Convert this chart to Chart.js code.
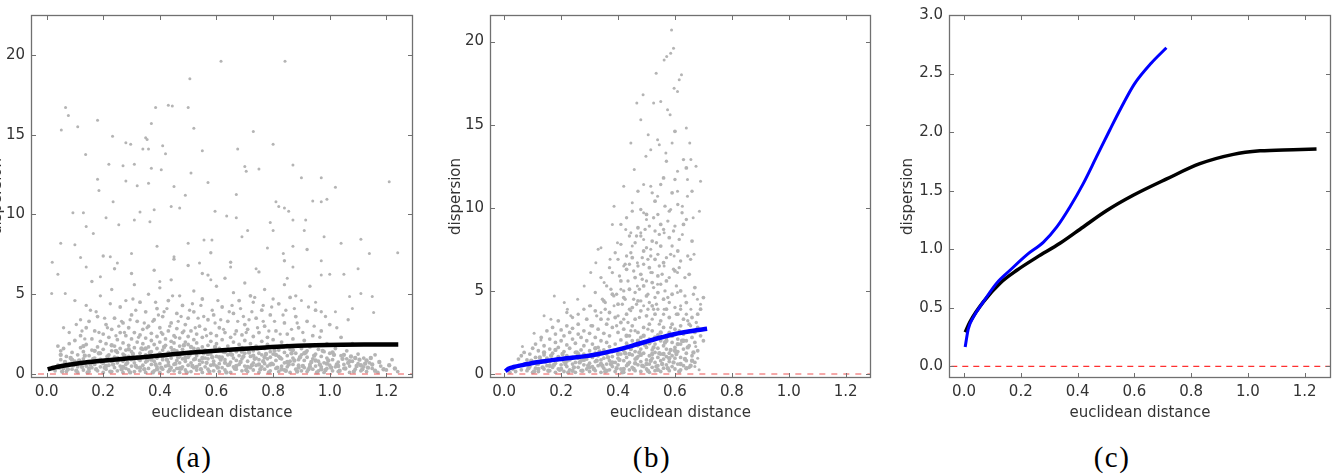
<!DOCTYPE html>
<html>
<head>
<meta charset="utf-8">
<script src="https://cdn.jsdelivr.net/npm/chart.js@4.4.0/dist/chart.umd.min.js"></script>
<style>
    html, body { margin: 0; padding: 0; background: #fff; }
    body { width: 1332px; height: 475px; position: relative; overflow: hidden; }
    .panel { position: absolute; top: 0; height: 432px; }
    .caption { position: absolute; top: 440px; width: 80px; margin-left: -40px; text-align: center;
        font-family: "Liberation Serif", "DejaVu Serif", serif; font-size: 29px; line-height: 34px;
        letter-spacing: 1.5px; color: #000; }
</style>
</head>
<body>
<div class="panel" style="left:-15px;width:435px"><canvas id="chartA"></canvas></div>
<div class="panel" style="left:444px;width:434px"><canvas id="chartB"></canvas></div>
<div class="panel" style="left:896px;width:436px"><canvas id="chartC"></canvas></div>
<div class="caption" style="left:194px">(a)</div>
<div class="caption" style="left:652px">(b)</div>
<div class="caption" style="left:1112px">(c)</div>
<script>
// --- DATA ---
const xTicks = [0.0, 0.2, 0.4, 0.6, 0.8, 1.0, 1.2];
const yTicksAB = [0, 5, 10, 15, 20];
const yTicksC = [0.0, 0.5, 1.0, 1.5, 2.0, 2.5, 3.0];

// fitted curves (black = panel a, blue = panel b), both repeated in panel c
const blackCurveX = [0.004, 0.021, 0.068, 0.127, 0.186, 0.256, 0.338, 0.42, 0.503, 0.596, 0.714, 0.831, 0.949, 1.043, 1.16, 1.242];
const blackCurveY = [0.29, 0.38, 0.55, 0.71, 0.82, 0.93, 1.05, 1.19, 1.33, 1.46, 1.60, 1.73, 1.81, 1.84, 1.85, 1.855];
const blueCurveX = [0.004, 0.015, 0.033, 0.068, 0.115, 0.162, 0.22, 0.28, 0.327, 0.373, 0.42, 0.467, 0.514, 0.554, 0.60, 0.66, 0.713];
const blueCurveY = [0.165, 0.32, 0.42, 0.55, 0.71, 0.82, 0.95, 1.06, 1.19, 1.36, 1.56, 1.79, 2.02, 2.21, 2.41, 2.59, 2.72];

// gray samples, panel (a): sparse upper points
const grayTopA = [
    [0.616,19.6],[0.842,19.6],[0.506,18.5],[0.067,16.7],[0.077,16.2],[0.385,16.7],[0.43,16.85],[0.444,16.8],[0.50,16.7],[0.18,15.9],
    [0.052,15.3],[0.11,15.5],[0.37,15.7],[0.52,15.4],[0.73,15.2],[0.233,14.9],[0.35,14.8],[0.355,14.7],[0.28,14.5],[0.297,14.4],
    [0.41,14.3],[0.80,14.4],[0.34,14.1],[0.36,14.1],[0.55,14.0],[0.675,14.1],[0.138,13.75],[0.42,13.8],[0.22,13.15],[0.31,13.15],
    [0.87,13.1],[0.70,13.0],[0.27,13.05],[0.37,12.9],[0.405,12.8],[0.51,12.6],[0.705,12.7],[0.75,12.85],[0.90,12.3],[0.97,12.3],
    [1.21,12.05],[0.18,12.2],[0.28,12.1],[0.57,12.0],[0.36,11.95],[0.45,11.75],[1.02,11.7],[0.185,11.5],[0.32,11.8],[0.67,11.25],
    [0.49,11.2],[0.94,10.85],[0.97,10.8],[0.99,10.95],[0.81,10.8],[0.82,10.5],[0.235,10.8],[0.44,10.5],[0.84,10.4],[0.855,10.2],
    [0.093,10.1],[0.13,10.1],[0.33,10.15],[0.38,10.3],[0.595,10.2],[0.636,9.9],[0.67,9.8],[0.21,9.8],[0.47,10.4],[0.87,9.65],
    [0.915,9.65],[0.79,9.5],[0.365,9.55],[0.14,9.25],[0.255,9.35],[0.31,9.65],[1.04,8.2],[0.98,8.6],[1.11,8.45],[0.80,9.0],
    [0.91,9.0],[0.556,8.4],[0.584,8.4],[0.71,9.0],[0.165,8.8],[0.05,8.2],[0.10,8.1],[0.39,8.0],[0.50,8.2],[0.69,8.6],
    [0.78,7.9],[1.14,7.55],[1.24,7.6],[0.836,7.55],[0.87,8.0],[0.12,7.3],[0.225,7.35],[0.30,7.55],[0.45,7.35],[0.97,7.1],
    [0.02,7.0],[0.14,6.7],[0.25,6.95],[0.54,6.95],[0.65,6.7],[0.74,6.6],[1.10,6.6],[0.04,6.25],[0.97,6.2],[1.0,6.25],
    [1.05,6.25],[0.87,6.7],[0.19,6.1],[0.40,5.8],[0.58,5.9],[0.85,6.0],[0.066,5.05],[0.018,5.05],[1.11,5.05],[1.15,4.85],
    [1.07,4.85],[1.08,4.1],[1.155,3.85],[1.02,3.9],[0.95,4.5],[0.90,4.6]
];
// panel (a): middle band
const grayMidA = [
    [0.08,2.6],[0.12,3.4],[0.14,4.3],[0.19,4.9],[0.23,5.3],[0.28,4.6],[0.31,5.6],[0.36,5.0],[0.4,5.4],[0.44,5.9],
    [0.47,4.9],[0.52,5.2],[0.57,6.2],[0.6,5.5],[0.63,6.0],[0.66,5.1],[0.7,5.7],[0.73,4.5],[0.77,5.3],[0.8,4.7],
    [0.84,5.6],[0.88,4.9],[0.93,5.5],[0.97,3.9],[0.1,4.6],[0.06,2.9],[0.3,6.3],[0.38,6.5],[0.5,6.8],[0.55,6.3],
    [0.65,7.0],[0.75,6.4],[0.16,5.8],[0.24,6.6],[0.45,7.2],[0.58,7.6],[0.84,7.1],[0.2,7.4],[0.92,7.8],
    [0.125,2.7],[0.175,3.9],[0.215,2.9],[0.265,3.3],[0.315,4.0],[0.345,3.2],[0.395,3.7],[0.425,4.1],[0.465,3.3],[0.515,4.4],
    [0.535,3.5],[0.585,4.0],[0.615,3.4],[0.655,4.3],[0.695,3.6],[0.725,3.9],[0.765,3.3],[0.795,4.2],[0.835,3.7],[0.875,4.1],
    [0.105,3.1],[0.135,2.2],[0.155,4.0],[0.185,2.6],[0.205,3.5],[0.225,4.4],[0.245,2.4],[0.255,3.0],[0.275,2.6],[0.295,3.4],
    [0.305,4.7],[0.325,2.3],[0.355,2.9],[0.375,3.3],[0.385,4.5],[0.405,2.6],[0.415,3.9],[0.435,3.0],[0.445,4.9],[0.455,2.3],
    [0.475,3.6],[0.485,2.7],[0.505,4.0],[0.525,2.9],[0.545,4.3],[0.555,3.6],[0.565,2.4],[0.595,3.2],[0.605,4.6],[0.625,2.8],
    [0.645,3.9],[0.665,2.5],[0.675,3.3],[0.685,4.1],[0.705,2.6],[0.715,3.4],[0.735,4.8],[0.745,2.9],[0.765,4.3],[0.785,2.7],
    [0.805,3.3],[0.825,2.5],[0.845,4.0],[0.865,2.8],[0.885,3.2],[0.905,2.6],[0.925,4.2],[0.945,3.0],[0.965,2.3],[0.985,3.6],
    [1.025,2.9],[1.065,3.4]
];
// panel (a): dense band near the floor
const grayLowA = [
    [0.03,0.2],[0.04,0.55],[0.05,0.9],[0.06,0.35],[0.06,1.6],[0.07,0.15],[0.07,1.1],[0.08,0.6],[0.08,1.9],[0.09,0.3],[0.09,1.35],[0.1,0.8],[0.1,2.1],[0.04,1.75],[0.05,1.45],
    [0.11,0.1],[0.11,0.45],[0.11,1.2],[0.12,0.7],[0.12,1.65],[0.12,2.4],[0.13,0.25],[0.13,0.95],[0.13,1.4],[0.14,0.5],[0.14,1.85],[0.14,2.9],[0.15,0.15],[0.15,0.75],[0.15,1.15],[0.15,3.3],[0.16,0.4],[0.16,1.5],[0.16,2.2],[0.17,0.6],[0.17,1.0],[0.17,2.7],[0.18,0.2],[0.18,0.85],[0.18,1.7],[0.18,3.6],[0.19,0.45],[0.19,1.3],[0.19,2.05],[0.2,0.1],[0.2,0.65],[0.2,1.55],[0.2,2.5],
    [0.21,0.3],[0.21,0.9],[0.21,1.9],[0.21,3.1],[0.22,0.55],[0.22,1.2],[0.22,2.3],[0.23,0.15],[0.23,0.8],[0.23,1.45],[0.23,2.8],[0.24,0.4],[0.24,1.05],[0.24,1.75],[0.24,3.5],[0.25,0.2],[0.25,0.7],[0.25,1.35],[0.25,2.15],[0.26,0.5],[0.26,0.95],[0.26,1.6],[0.26,2.6],[0.26,4.2],[0.27,0.1],[0.27,0.8],[0.27,1.25],[0.27,1.95],[0.27,3.2],[0.28,0.35],[0.28,0.6],[0.28,1.5],[0.28,2.4],[0.29,0.25],[0.29,1.1],[0.29,1.8],[0.29,2.9],[0.3,0.5],[0.3,0.9],[0.3,1.4],[0.3,2.2],[0.3,3.7],
    [0.31,0.15],[0.31,0.7],[0.31,1.65],[0.31,2.6],[0.32,0.4],[0.32,1.05],[0.32,2.0],[0.32,3.3],[0.33,0.2],[0.33,0.85],[0.33,1.3],[0.33,2.45],[0.33,4.5],[0.34,0.55],[0.34,1.55],[0.34,1.9],[0.34,2.8],[0.35,0.1],[0.35,0.75],[0.35,1.2],[0.35,2.25],[0.35,3.9],[0.36,0.35],[0.36,0.95],[0.36,1.7],[0.36,3.0],[0.37,0.6],[0.37,1.4],[0.37,2.1],[0.37,2.55],[0.38,0.2],[0.38,0.8],[0.38,1.15],[0.38,1.85],[0.38,3.4],[0.39,0.45],[0.39,1.0],[0.39,1.6],[0.39,2.35],[0.39,4.1],[0.4,0.1],[0.4,0.65],[0.4,1.3],[0.4,2.0],[0.4,2.9],
    [0.41,0.3],[0.41,0.9],[0.41,1.5],[0.41,2.5],[0.41,3.6],[0.42,0.5],[0.42,1.15],[0.42,1.8],[0.42,2.2],[0.43,0.15],[0.43,0.75],[0.43,1.35],[0.43,2.7],[0.43,4.6],[0.44,0.4],[0.44,1.0],[0.44,1.65],[0.44,2.05],[0.44,3.2],[0.45,0.2],[0.45,0.6],[0.45,1.25],[0.45,1.95],[0.45,2.4],[0.46,0.35],[0.46,0.85],[0.46,1.45],[0.46,2.85],[0.46,3.8],[0.47,0.1],[0.47,0.7],[0.47,1.1],[0.47,1.75],[0.47,2.25],[0.48,0.45],[0.48,0.95],[0.48,1.55],[0.48,2.6],[0.48,4.3],[0.49,0.25],[0.49,0.8],[0.49,1.3],[0.49,2.0],[0.49,3.1],[0.5,0.55],[0.5,1.05],[0.5,1.85],[0.5,2.35],[0.5,3.5],
    [0.51,0.15],[0.51,0.7],[0.51,1.4],[0.51,2.7],[0.52,0.4],[0.52,0.9],[0.52,1.6],[0.52,2.15],[0.52,3.9],[0.53,0.25],[0.53,1.15],[0.53,1.95],[0.53,2.5],[0.54,0.6],[0.54,0.85],[0.54,1.35],[0.54,3.0],[0.55,0.1],[0.55,0.75],[0.55,1.7],[0.55,2.3],[0.55,4.7],[0.56,0.45],[0.56,1.0],[0.56,1.5],[0.56,2.8],[0.57,0.3],[0.57,0.95],[0.57,1.8],[0.57,3.4],[0.58,0.55],[0.58,1.25],[0.58,2.05],[0.58,2.55],[0.59,0.2],[0.59,0.8],[0.59,1.45],[0.59,3.7],[0.6,0.5],[0.6,1.1],[0.6,1.9],[0.6,2.4],
    [0.61,0.15],[0.61,0.65],[0.61,1.6],[0.61,2.9],[0.62,0.4],[0.62,1.05],[0.62,2.15],[0.62,4.2],[0.63,0.25],[0.63,0.9],[0.63,1.35],[0.63,2.6],[0.64,0.55],[0.64,1.2],[0.64,1.75],[0.64,3.3],[0.65,0.1],[0.65,0.75],[0.65,1.5],[0.65,2.3],[0.66,0.45],[0.66,1.0],[0.66,2.0],[0.66,3.8],[0.67,0.3],[0.67,0.85],[0.67,1.4],[0.67,2.7],[0.68,0.6],[0.68,1.15],[0.68,1.85],[0.68,4.6],[0.69,0.2],[0.69,0.95],[0.69,1.65],[0.69,2.45],[0.7,0.5],[0.7,1.3],[0.7,2.1],[0.7,3.1],
    [0.71,0.15],[0.71,0.8],[0.71,1.55],[0.71,2.8],[0.72,0.4],[0.72,1.1],[0.72,1.9],[0.72,4.9],[0.73,0.25],[0.73,0.7],[0.73,1.45],[0.73,2.35],[0.74,0.55],[0.74,1.0],[0.74,1.75],[0.74,3.5],[0.75,0.1],[0.75,0.9],[0.75,1.3],[0.75,2.6],[0.76,0.45],[0.76,1.2],[0.76,2.05],[0.76,4.0],[0.77,0.3],[0.77,0.65],[0.77,1.6],[0.77,3.0],[0.78,0.5],[0.78,0.95],[0.78,1.85],[0.78,2.3],[0.79,0.2],[0.79,1.05],[0.79,1.4],[0.79,3.7],[0.8,0.6],[0.8,1.25],[0.8,2.15],
    [0.81,0.35],[0.81,0.85],[0.81,1.7],[0.81,2.7],[0.82,0.15],[0.82,1.1],[0.82,1.5],[0.82,4.4],[0.83,0.5],[0.83,0.95],[0.83,2.0],[0.84,0.25],[0.84,0.7],[0.84,1.35],[0.84,3.2],[0.85,0.45],[0.85,1.15],[0.85,1.8],[0.85,2.5],[0.86,0.1],[0.86,0.8],[0.86,1.55],[0.86,4.8],[0.87,0.6],[0.87,1.0],[0.87,2.2],[0.88,0.3],[0.88,1.3],[0.88,1.75],[0.88,3.6],[0.89,0.55],[0.89,0.9],[0.89,2.9],[0.9,0.2],[0.9,1.2],[0.9,1.6],
    [0.91,0.4],[0.91,0.85],[0.91,2.1],[0.92,0.15],[0.92,1.05],[0.92,1.45],[0.92,3.3],[0.93,0.6],[0.93,1.7],[0.94,0.3],[0.94,0.95],[0.94,2.4],[0.95,0.5],[0.95,1.25],[0.95,4.0],[0.96,0.2],[0.96,0.8],[0.96,1.55],[0.97,0.45],[0.97,1.1],[0.97,2.7],[0.98,0.1],[0.98,0.7],[0.98,1.4],[0.99,0.35],[0.99,1.0],[0.99,1.9],[1.0,0.55],[1.0,1.3],[1.0,3.1],
    [1.01,0.2],[1.01,0.9],[1.02,0.45],[1.02,1.6],[1.03,0.15],[1.03,0.75],[1.04,1.15],[1.04,2.3],[1.05,0.35],[1.05,0.6],[1.06,0.95],[1.06,1.45],[1.07,0.1],[1.07,0.5],[1.08,0.8],[1.08,1.9],[1.09,0.3],[1.1,0.65],[1.1,1.25],[1.11,0.2],[1.12,0.45],[1.12,1.0],[1.13,0.15],[1.14,0.7],[1.15,0.35],[1.16,1.2],[1.17,0.1],[1.18,0.5],[1.2,0.25],[1.22,0.9],[1.24,0.15]
];
// panel (a): the packed floor under the curve
const grayFloorA = [
    [0.045,0.4],[0.055,0.15],[0.065,0.75],[0.075,0.3],[0.085,1.0],[0.095,0.55],[0.105,0.2],[0.115,0.85],[0.125,0.45],[0.135,1.15],
    [0.145,0.1],[0.155,0.6],[0.165,0.95],[0.175,0.3],[0.185,1.3],[0.195,0.75],[0.205,0.4],[0.215,1.1],[0.225,0.15],[0.235,0.6],
    [0.245,1.45],[0.255,0.9],[0.265,0.3],[0.275,1.15],[0.285,0.7],[0.295,0.1],[0.305,1.25],[0.315,0.5],[0.325,0.95],[0.335,1.6],
    [0.345,0.3],[0.355,0.85],[0.365,1.35],[0.375,0.1],[0.385,0.6],[0.395,1.2],[0.405,0.4],[0.415,1.7],[0.425,0.9],[0.435,0.25],
    [0.445,1.45],[0.455,0.65],[0.465,1.05],[0.475,0.35],[0.485,1.8],[0.495,0.1],[0.505,1.2],[0.515,0.5],[0.525,0.95],[0.535,1.55],
    [0.545,0.3],[0.555,1.3],[0.565,0.7],[0.575,0.15],[0.585,1.05],[0.595,1.7],[0.605,0.4],[0.615,0.9],[0.625,1.4],[0.635,0.1],
    [0.645,0.6],[0.655,1.2],[0.665,0.35],[0.675,1.55],[0.685,0.75],[0.695,1.1],[0.705,0.25],[0.715,1.35],[0.725,0.55],[0.735,0.95],
    [0.745,1.6],[0.755,0.3],[0.765,0.8],[0.775,1.25],[0.785,0.1],[0.795,0.65],[0.805,1.45],[0.815,0.4],[0.825,1.0],[0.835,1.7],
    [0.845,0.2],[0.855,0.6],[0.865,1.3],[0.875,0.85],[0.885,0.15],[0.895,1.05],[0.905,0.5],[0.915,1.35],[0.925,0.3],[0.935,0.75],
    [0.945,1.15],[0.955,0.1],[0.965,0.6],[0.975,1.45],[0.985,0.25],[0.995,0.85],[1.005,0.4],[1.015,1.2],[1.025,0.6],[1.035,0.2],
    [1.045,0.95],[1.055,0.35],[1.065,0.7],[1.075,1.1],[1.085,0.15],[1.095,0.5],[1.105,0.9],[1.115,0.3],[1.125,0.65],[1.135,0.4],
    [1.145,1.0],[1.16,0.2],[1.175,0.75],[1.19,0.3],[1.21,0.55],[1.23,0.35],
    [0.05,1.2],[0.07,0.5],[0.09,0.9],[0.11,0.65],[0.13,1.75],[0.15,0.35],[0.17,1.45],[0.19,0.9],[0.21,0.5],[0.23,1.8],
    [0.25,1.0],[0.27,0.45],[0.29,1.55],[0.31,0.95],[0.33,0.4],[0.35,1.6],[0.37,0.9],[0.39,0.3],[0.41,1.1],[0.43,0.55],
    [0.45,1.5],[0.47,0.35],[0.49,1.0],[0.51,1.7],[0.53,0.45],[0.55,1.0],[0.57,1.25],[0.59,0.6],[0.61,1.05],[0.63,0.7],
    [0.65,1.25],[0.67,0.5],[0.69,1.4],[0.71,0.45],[0.73,1.15],[0.75,0.6],[0.77,1.05],[0.79,0.6],[0.81,1.2],[0.83,0.3],
    [0.85,0.75],[0.87,1.5],[0.89,0.4],[0.91,1.3],[0.93,0.45],[0.95,0.85],[0.97,0.3],[0.99,0.65],[1.01,1.35],[1.03,0.5],
    [1.05,1.2],[1.07,0.8],[1.09,1.0],[1.11,0.55],[1.13,0.85],[1.15,0.6]
];

// gray samples, panel (b): sparse upper plume
const grayTopB = [
    [0.588,20.7],[0.595,19.6],[0.585,19.3],[0.562,18.9],[0.571,19.1],[0.534,18.1],[0.623,18.0],[0.615,17.7],[0.597,17.2],[0.609,17.0],
    [0.488,16.8],[0.466,16.3],[0.525,16.3],[0.55,16.4],[0.574,15.9],[0.583,15.6],[0.48,15.3],[0.64,14.8],[0.506,14.4],[0.539,14.1],
    [0.545,13.8],[0.59,13.9],[0.652,13.9],[0.445,13.9],[0.515,13.5],[0.568,13.3],[0.656,12.9],[0.674,12.5],[0.457,12.3],[0.498,13.1],
    [0.609,12.2],[0.644,11.7],[0.69,11.6],[0.42,11.3],[0.49,11.4],[0.515,11.3],[0.539,10.7],[0.609,11.0],[0.644,10.7],[0.386,10.1],
    [0.45,10.3],[0.49,9.7],[0.50,9.3],[0.585,9.9],[0.626,10.1],[0.686,9.8],[0.664,9.4],[0.38,9.0],[0.427,8.7],[0.445,8.5],
    [0.48,8.5],[0.49,8.1],[0.562,8.5],[0.626,8.4],[0.34,7.6],[0.398,7.9],[0.45,7.7],[0.515,7.5],[0.597,7.1],[0.667,7.2],
    [0.33,7.5],[0.322,6.7],[0.372,6.9],[0.42,6.5],[0.468,6.7],[0.515,6.1],[0.562,6.5],[0.609,6.1],[0.304,6.1],[0.281,5.3],
    [0.351,5.5],[0.41,5.1],[0.468,5.3],[0.539,5.4],[0.609,4.9],[0.679,4.5],[0.176,4.7],[0.211,4.3],[0.258,4.5],[0.222,3.9],
    [0.234,3.5],[0.14,3.5],[0.164,3.3],[0.304,4.1],[0.34,3.7],[0.386,4.1],[0.445,3.8],[0.49,4.1],[0.562,3.9],[0.62,4.1],
    [0.656,3.9],[0.69,4.2],[0.673,1.65],[0.68,0.95],[0.67,0.45],[0.685,0.25],[0.064,1.65],[0.105,2.45],[0.129,2.05]
];
// panel (b): plume body
const grayMidB = [
    [0.36,5.3],[0.38,6.1],[0.4,6.9],[0.41,7.8],[0.42,5.0],[0.43,7.1],[0.44,8.3],[0.44,6.6],[0.46,7.9],[0.46,4.9],
    [0.47,6.5],[0.48,9.9],[0.48,8.3],[0.49,6.6],[0.5,5.6],[0.5,7.6],[0.51,8.9],[0.51,4.3],[0.52,6.1],[0.52,10.9],
    [0.53,8.6],[0.53,4.6],[0.54,7.2],[0.54,9.6],[0.55,5.4],[0.55,11.4],[0.56,8.7],[0.57,7.0],[0.57,12.8],[0.58,5.8],
    [0.58,9.8],[0.59,7.7],[0.6,11.7],[0.6,8.9],[0.61,10.2],[0.62,6.8],[0.63,12.9],[0.64,9.3],[0.66,11.0],[0.34,5.8],
    [0.32,4.9],[0.3,4.1],[0.28,3.9],[0.26,3.6],[0.24,3.4],[0.22,3.7],[0.4,3.5],[0.42,3.3],[0.44,3.9],[0.46,2.6],
    [0.48,4.4],[0.52,3.3],[0.54,3.9],[0.56,3.6],[0.58,4.3],[0.6,4.0],[0.62,3.9],[0.64,3.6],[0.47,11.0],[0.45,9.8],
    [0.43,9.4],[0.41,9.0],[0.39,7.3],[0.37,6.4],
    [0.435,5.6],[0.455,6.2],[0.475,5.1],[0.485,7.0],[0.505,6.9],[0.525,5.2],[0.535,7.9],[0.545,6.5],[0.565,5.0],[0.575,9.2],
    [0.595,6.3],[0.605,5.3],[0.615,8.1],[0.635,4.7],[0.645,7.1],[0.505,4.8],[0.465,4.2],[0.425,4.5],[0.385,4.7],[0.355,4.3],
    [0.305,2.9],[0.325,3.5],[0.345,4.5],[0.365,3.3],[0.375,5.1],[0.395,2.9],[0.405,5.9],[0.415,4.2],[0.425,6.6],[0.435,3.1],
    [0.445,7.3],[0.455,4.5],[0.465,8.3],[0.475,3.4],[0.485,5.7],[0.495,8.7],[0.505,3.9],[0.515,7.1],[0.525,9.4],[0.535,4.2],
    [0.545,8.4],[0.555,6.0],[0.565,10.1],[0.575,4.6],[0.585,7.2],[0.595,8.6],[0.605,3.6],[0.615,6.4],[0.625,9.7],[0.635,5.8],
    [0.645,3.2],[0.655,6.9],[0.665,4.8],[0.675,3.1],[0.355,3.9],[0.395,4.8],[0.445,2.6],[0.505,2.7],[0.525,3.9],[0.545,3.0],
    [0.585,2.8],[0.615,2.6],[0.655,2.9]
];
// panel (b): dense band near the floor
const grayLowB = [
    [0.02,0.1],[0.03,0.3],[0.04,0.15],[0.05,0.5],[0.05,0.9],[0.06,0.25],[0.06,1.1],[0.07,0.6],[0.07,1.3],[0.08,0.2],[0.08,0.85],[0.09,0.45],[0.09,1.2],[0.1,0.1],[0.1,0.7],[0.1,1.55],
    [0.11,0.35],[0.11,1.0],[0.11,1.8],[0.12,0.15],[0.12,0.6],[0.12,1.4],[0.13,0.8],[0.13,2.2],[0.14,0.3],[0.14,1.15],[0.14,1.7],[0.15,0.5],[0.15,0.95],[0.15,2.6],[0.16,0.2],[0.16,0.75],[0.16,1.5],[0.16,2.1],[0.17,0.4],[0.17,1.25],[0.17,2.8],[0.18,0.1],[0.18,0.65],[0.18,1.9],[0.18,2.4],[0.19,0.3],[0.19,1.05],[0.19,1.6],[0.19,3.2],[0.2,0.55],[0.2,0.9],[0.2,2.0],[0.2,2.65],
    [0.21,0.15],[0.21,0.75],[0.21,1.35],[0.21,2.3],[0.22,0.45],[0.22,1.1],[0.22,1.75],[0.22,2.9],[0.23,0.25],[0.23,0.85],[0.23,1.55],[0.23,2.5],[0.24,0.6],[0.24,1.0],[0.24,2.1],[0.24,2.75],[0.25,0.1],[0.25,0.7],[0.25,1.3],[0.25,1.85],[0.26,0.4],[0.26,0.95],[0.26,2.4],[0.26,3.0],[0.27,0.2],[0.27,0.8],[0.27,1.45],[0.27,2.2],[0.28,0.55],[0.28,1.2],[0.28,1.7],[0.28,2.6],[0.29,0.3],[0.29,0.9],[0.29,2.0],[0.29,3.3],[0.3,0.15],[0.3,0.65],[0.3,1.4],[0.3,2.45],
    [0.31,0.45],[0.31,1.0],[0.31,1.8],[0.31,2.9],[0.32,0.2],[0.32,0.75],[0.32,1.25],[0.32,2.2],[0.32,3.8],[0.33,0.5],[0.33,1.1],[0.33,1.6],[0.33,2.7],[0.34,0.1],[0.34,0.85],[0.34,2.0],[0.34,3.3],[0.35,0.35],[0.35,0.95],[0.35,1.45],[0.35,2.45],[0.35,4.4],[0.36,0.6],[0.36,1.2],[0.36,1.9],[0.36,3.0],[0.37,0.25],[0.37,0.8],[0.37,1.65],[0.37,2.3],[0.37,3.7],[0.38,0.45],[0.38,1.05],[0.38,1.35],[0.38,2.8],[0.38,4.8],[0.39,0.15],[0.39,0.7],[0.39,1.8],[0.39,3.4],[0.4,0.55],[0.4,0.95],[0.4,1.5],[0.4,2.5],[0.4,4.2],
    [0.41,0.3],[0.41,1.2],[0.41,2.05],[0.41,3.1],[0.41,5.6],[0.42,0.1],[0.42,0.8],[0.42,1.4],[0.42,2.7],[0.42,4.6],[0.43,0.5],[0.43,1.0],[0.43,1.85],[0.43,3.6],[0.43,6.3],[0.44,0.25],[0.44,0.7],[0.44,1.6],[0.44,2.3],[0.44,5.1],[0.45,0.4],[0.45,1.15],[0.45,2.0],[0.45,2.9],[0.45,4.0],[0.45,7.0],[0.46,0.2],[0.46,0.9],[0.46,1.35],[0.46,3.3],[0.46,5.8],[0.47,0.55],[0.47,1.05],[0.47,1.7],[0.47,2.5],[0.47,4.4],[0.47,8.8],[0.48,0.15],[0.48,0.75],[0.48,1.5],[0.48,2.2],[0.48,3.8],[0.48,6.0],[0.49,0.45],[0.49,1.25],[0.49,1.9],[0.49,2.8],[0.49,5.3],[0.49,7.4],[0.5,0.3],[0.5,0.85],[0.5,1.6],[0.5,3.5],[0.5,4.7],[0.5,9.6],
    [0.51,0.1],[0.51,0.6],[0.51,1.1],[0.51,2.1],[0.51,3.0],[0.51,6.4],[0.52,0.4],[0.52,0.95],[0.52,1.45],[0.52,2.6],[0.52,4.1],[0.52,5.5],[0.52,8.0],[0.53,0.2],[0.53,0.7],[0.53,1.3],[0.53,1.8],[0.53,3.6],[0.53,6.9],[0.53,10.4],[0.54,0.5],[0.54,1.0],[0.54,1.55],[0.54,2.35],[0.54,4.9],[0.54,5.9],[0.55,0.15],[0.55,0.8],[0.55,1.2],[0.55,2.0],[0.55,3.2],[0.55,7.7],[0.55,9.0],[0.56,0.35],[0.56,0.9],[0.56,1.7],[0.56,2.8],[0.56,4.5],[0.56,6.7],[0.56,11.8],[0.57,0.55],[0.57,1.05],[0.57,1.5],[0.57,2.2],[0.57,3.9],[0.57,5.6],[0.58,0.2],[0.58,0.75],[0.58,1.25],[0.58,2.5],[0.58,3.4],[0.58,8.2],[0.59,0.45],[0.59,1.1],[0.59,1.9],[0.59,3.0],[0.59,4.8],[0.59,10.9],[0.6,0.3],[0.6,0.95],[0.6,1.6],[0.6,2.7],[0.6,6.2],[0.6,14.6],
    [0.61,0.6],[0.61,1.35],[0.61,2.1],[0.61,3.6],[0.61,7.4],[0.62,0.25],[0.62,1.0],[0.62,1.8],[0.62,2.9],[0.62,5.0],[0.63,0.5],[0.63,1.5],[0.63,2.4],[0.63,3.3],[0.63,9.0],[0.64,0.8],[0.64,1.25],[0.64,2.0],[0.64,4.3],[0.64,12.4],[0.65,0.4],[0.65,1.7],[0.65,2.6],[0.65,3.0],[0.65,6.0],[0.66,1.1],[0.66,2.2],[0.66,3.4],[0.66,8.0],[0.67,0.7],[0.67,1.9],[0.67,2.5],[0.67,5.2],[0.68,1.4],[0.68,2.8],[0.68,3.6],[0.69,2.3],[0.69,3.9],[0.7,2.0],[0.7,4.6]
];
// panel (b): the packed floor under the curve
const grayFloorB = [
    [0.085,0.35],[0.095,0.8],[0.105,0.15],[0.115,0.6],[0.125,1.0],[0.135,0.4],[0.145,0.75],[0.155,0.2],[0.165,1.1],[0.175,0.55],
    [0.185,0.85],[0.195,0.25],[0.205,1.2],[0.215,0.6],[0.225,0.1],[0.235,0.95],[0.245,0.4],[0.255,1.3],[0.265,0.7],[0.275,0.2],
    [0.285,1.0],[0.295,0.5],[0.305,1.15],[0.315,0.3],[0.325,0.8],[0.335,1.35],[0.345,0.5],[0.355,0.15],[0.365,1.0],[0.375,0.6],
    [0.385,1.4],[0.395,0.35],[0.405,0.85],[0.415,0.1],[0.425,1.25],[0.435,0.6],[0.445,1.5],[0.455,0.3],[0.465,0.95],[0.475,1.3],
    [0.485,0.5],[0.495,1.75],[0.505,0.2],[0.515,0.8],[0.525,1.6],[0.535,0.45],[0.545,1.25],[0.555,0.6],[0.565,1.9],[0.575,0.35],
    [0.585,1.45],[0.595,0.7],[0.605,1.2],[0.615,0.15],[0.625,2.0],[0.635,0.9],[0.645,1.6],[0.655,0.5],[0.665,1.3],
    [0.12,0.3],[0.14,1.3],[0.16,0.5],[0.18,1.45],[0.2,0.3],[0.22,0.8],[0.24,0.2],[0.26,1.2],[0.28,0.85],[0.3,0.4],
    [0.32,1.55],[0.34,0.6],[0.36,0.2],[0.38,0.7],[0.4,1.2],[0.42,0.3],[0.44,1.2],[0.46,0.65],[0.48,1.15],[0.5,0.6],
    [0.52,1.2],[0.54,0.25],[0.56,1.2],[0.58,0.95],[0.6,1.4],[0.62,0.6],[0.64,0.35],[0.66,0.8],[0.51,1.85],[0.53,2.2],
    [0.55,2.5],[0.57,2.0],[0.59,2.3],[0.61,1.8],[0.63,2.0],[0.49,2.3],[0.47,2.0],[0.45,1.7],[0.43,2.3]
];

// --- HELPERS ---
const toPoints = (xs, ys) => xs.map((x, i) => ({ x: x, y: ys[i] }));
const GRAY = '#b4b4b4';

Chart.defaults.font.family = '"DejaVu Sans", "Liberation Sans", sans-serif';
Chart.defaults.font.size = 15;
Chart.defaults.color = '#333';

// inward ticks on all four sides + frame, like the classic matplotlib style
const frameTicks = {
    id: 'frameTicks',
    afterDatasetsDraw(chart) {
        const { ctx, chartArea: { left, right, top, bottom }, scales: { x, y } } = chart;
        const len = 5;
        ctx.save();
        ctx.strokeStyle = '#707070';
        ctx.lineWidth = 1;
        ctx.beginPath();
        x.ticks.forEach(t => {
            const px = Math.round(x.getPixelForValue(t.value)) + 0.5;
            ctx.moveTo(px, bottom); ctx.lineTo(px, bottom - len);
            ctx.moveTo(px, top); ctx.lineTo(px, top + len);
        });
        y.ticks.forEach(t => {
            const py = Math.round(y.getPixelForValue(t.value)) + 0.5;
            ctx.moveTo(left, py); ctx.lineTo(left + len, py);
            ctx.moveTo(right, py); ctx.lineTo(right - len, py);
        });
        ctx.stroke();
        ctx.lineWidth = 1.3;
        ctx.strokeRect(left + 0.5, top + 0.5, right - left - 1, bottom - top - 1);
        ctx.restore();
    }
};

function makePanel(id, p) {
    new Chart(document.getElementById(id), {
        type: 'scatter',
        data: { datasets: p.datasets },
        options: {
            responsive: true, maintainAspectRatio: false, animation: false, events: [],
            layout: { padding: { left: 0, right: p.padRight, top: 15, bottom: 0 } },
            plugins: { legend: { display: false }, tooltip: { enabled: false } },
            scales: {
                x: {
                    type: 'linear', min: p.xMin, max: p.xMax,
                    grid: { display: false, drawTicks: false }, border: { display: false },
                    afterBuildTicks: s => { s.ticks = xTicks.map(v => ({ value: v })); },
                    afterFit: s => { s.height = 54; },
                    ticks: { padding: 5, color: '#333', maxRotation: 0, callback: v => v.toFixed(1) },
                    title: { display: true, text: 'euclidean distance', color: '#333', padding: { top: 0, bottom: 10 } }
                },
                y: {
                    type: 'linear', min: p.yMin, max: p.yMax,
                    grid: { display: false, drawTicks: false }, border: { display: false },
                    afterBuildTicks: s => { s.ticks = p.yTicks.map(v => ({ value: v })); },
                    afterFit: s => { s.width = p.yAxisWidth; },
                    ticks: { padding: 6, color: '#333', callback: v => p.yFmt(v) },
                    title: { display: true, text: 'dispersion', color: '#333', padding: { top: 3, bottom: 0 } }
                }
            }
        },
        plugins: [frameTicks]
    });
}

const zeroLine = (color, width, dash) => ({
    type: 'line', data: [{ x: -0.2, y: 0 }, { x: 1.5, y: 0 }], borderColor: color, borderWidth: width,
    borderDash: dash, pointRadius: 0, order: 1
});
const curve = (xs, ys, color, width) => ({
    type: 'line', data: toPoints(xs, ys), borderColor: color, borderWidth: width, pointRadius: 0,
    cubicInterpolationMode: 'monotone', order: 0
});
const cloud = (pts, r) => ({
    data: pts, backgroundColor: GRAY, borderWidth: 0, pointRadius: r, order: 3
});

// --- PANEL (a) ---
makePanel('chartA', {
    xMin: -0.055, xMax: 1.294, yMin: -0.25, yMax: 22.5, yTicks: yTicksAB, yFmt: v => String(v),
    yAxisWidth: 46, padRight: 7,
    datasets: [
        curve(blackCurveX, blackCurveY, '#000', 4.5),
        zeroLine('rgba(240,110,110,0.6)', 2, [6, 6]),
        cloud(grayTopA, 1.5), cloud(grayMidA, 1.7), cloud(grayLowA, 1.9), cloud(grayFloorA, 2.2)
    ]
});

// --- PANEL (b) ---
makePanel('chartB', {
    xMin: -0.05, xMax: 1.289, yMin: -0.24, yMax: 21.6, yTicks: yTicksAB, yFmt: v => String(v),
    yAxisWidth: 46, padRight: 7,
    datasets: [
        curve(blueCurveX, blueCurveY, '#0000ff', 4.5),
        zeroLine('rgba(240,110,110,0.6)', 2, [6, 6]),
        cloud(grayTopB, 1.5), cloud(grayMidB, 1.7), cloud(grayLowB, 1.9), cloud(grayFloorB, 2.2)
    ]
});

// --- PANEL (c) ---
makePanel('chartC', {
    xMin: -0.053, xMax: 1.293, yMin: -0.1, yMax: 3.0, yTicks: yTicksC, yFmt: v => v.toFixed(1),
    yAxisWidth: 53, padRight: 1,
    datasets: [
        curve(blueCurveX, blueCurveY, '#0000ff', 3),
        curve(blackCurveX, blackCurveY, '#000', 3.5),
        zeroLine('#ff3030', 1.2, [6, 5])
    ]
});
</script>
</body>
</html>
